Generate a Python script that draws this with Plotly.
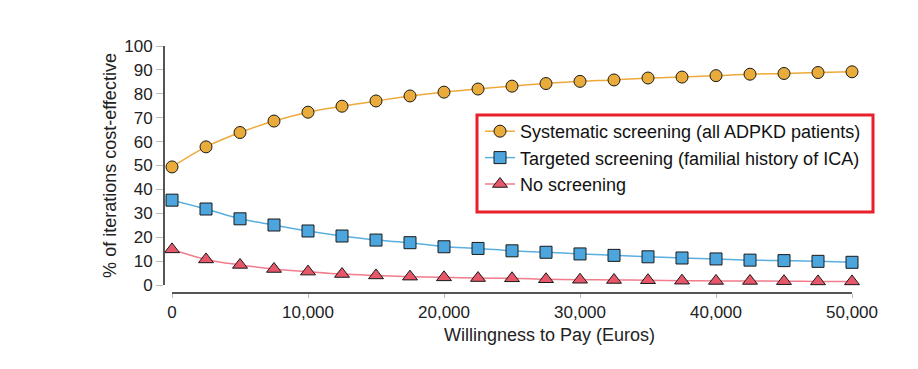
import plotly.graph_objects as go

wtp = [0, 2500, 5000, 7500, 10000, 12500, 15000, 17500, 20000, 22500, 25000,
       27500, 30000, 32500, 35000, 37500, 40000, 42500, 45000, 47500, 50000]

systematic = [49.4, 57.8, 63.8, 68.6, 72.3, 74.8, 77.0, 79.1, 80.7, 82.0, 83.2,
              84.3, 85.2, 85.8, 86.6, 87.0, 87.6, 88.2, 88.5, 88.9, 89.2]
targeted = [35.5, 31.8, 27.7, 25.1, 22.6, 20.5, 18.8, 17.7, 16.0, 15.3, 14.3,
            13.7, 13.0, 12.4, 11.8, 11.3, 10.9, 10.4, 10.2, 9.9, 9.5]
no_screen = [14.9, 10.7, 8.4, 6.7, 5.6, 4.6, 4.0, 3.5, 3.2, 2.9, 2.8,
             2.4, 2.2, 2.1, 2.0, 1.8, 1.7, 1.7, 1.6, 1.5, 1.5]

names = ["Systematic screening (all ADPKD patients)",
         "Targeted screening (familial history of ICA)",
         "No screening"]
x_title = "Willingness to Pay (Euros)"
y_title = "% of iterations cost-effective"
x_ticks = [0, 10000, 20000, 30000, 40000, 50000]
x_ticklabels = ["0", "10,000", "20,000", "30,000", "40,000", "50,000"]
y_ticks = list(range(0, 101, 10))

W, H = 918, 369
OFF = 8  # page body margin
ML, MR, MT, MB = 140, 50, 30, 60
PW, PH = W - ML - MR, H - MT - MB

def px_x(p):
    return (p - OFF - ML) / PW

def px_y(p):
    return (H - MB - (p - OFF)) / PH

fig = go.Figure()
styles = [
    (systematic, "circle", "#E9AC3A", "#EFA93A"),
    (targeted, "square", "#4CA5DC", "#5AAEE0"),
    (no_screen, "triangle-up", "#E8566A", "#F07C8C"),
]
for i, (vals, sym, fill, lc) in enumerate(styles):
    fig.add_trace(go.Scatter(
        x=wtp, y=vals, name=names[i], mode="lines+markers",
        line=dict(color=lc, width=1.5, shape="spline"),
        marker=dict(symbol=sym, size=12 if sym != "triangle-up" else 13,
                    color=fill, line=dict(color="#1a1a1a", width=1)),
        cliponaxis=False, legendgroup=f"g{i}",
    ))

font = "Liberation Sans, Arial, sans-serif"
fig.update_layout(
    width=W, height=H,
    margin=dict(l=ML, r=MR, t=MT, b=MB, autoexpand=False),
    paper_bgcolor="white", plot_bgcolor="white",
    font=dict(family=font, size=17, color="#222"),
    showlegend=True,
    legend=dict(x=px_x(480), y=px_y(113), xanchor="left", yanchor="top",
                bgcolor="rgba(0,0,0,0)", font=dict(size=18, color="#111"),
                tracegroupgap=0, itemwidth=30),
    xaxis=dict(
        range=[0, 50000], domain=[px_x(172), px_x(852)],
        anchor="free", position=px_y(293), automargin=False,
        tickvals=x_ticks, ticktext=x_ticklabels,
        showgrid=False, zeroline=False,
        showline=True, linecolor="#555", linewidth=2,
        ticks="outside", ticklen=4, tickcolor="#bbb", tickwidth=1,
        tickfont=dict(size=17),
    ),
    yaxis=dict(
        range=[0, 100], domain=[px_y(285), px_y(46)],
        anchor="free", position=px_x(164), automargin=False,
        tickvals=y_ticks, showgrid=False, zeroline=False,
        showline=True, linecolor="#555", linewidth=2,
        ticks="outside", ticklen=7, tickcolor="#bbb", tickwidth=1,
        title=dict(text=y_title, standoff=2, font=dict(size=18)),
        tickfont=dict(size=17),
    ),
    annotations=[dict(text=x_title, xref="paper", yref="paper",
                      x=px_x(549), y=px_y(335), xanchor="center",
                      yanchor="middle", showarrow=False,
                      font=dict(size=18, color="#222"))],
    shapes=[dict(type="rect", xref="paper", yref="paper",
                 x0=px_x(477), x1=px_x(873), y0=px_y(212), y1=px_y(115),
                 line=dict(color="#E8202A", width=3), fillcolor="rgba(0,0,0,0)")],
)

fig.write_html("out.html")
